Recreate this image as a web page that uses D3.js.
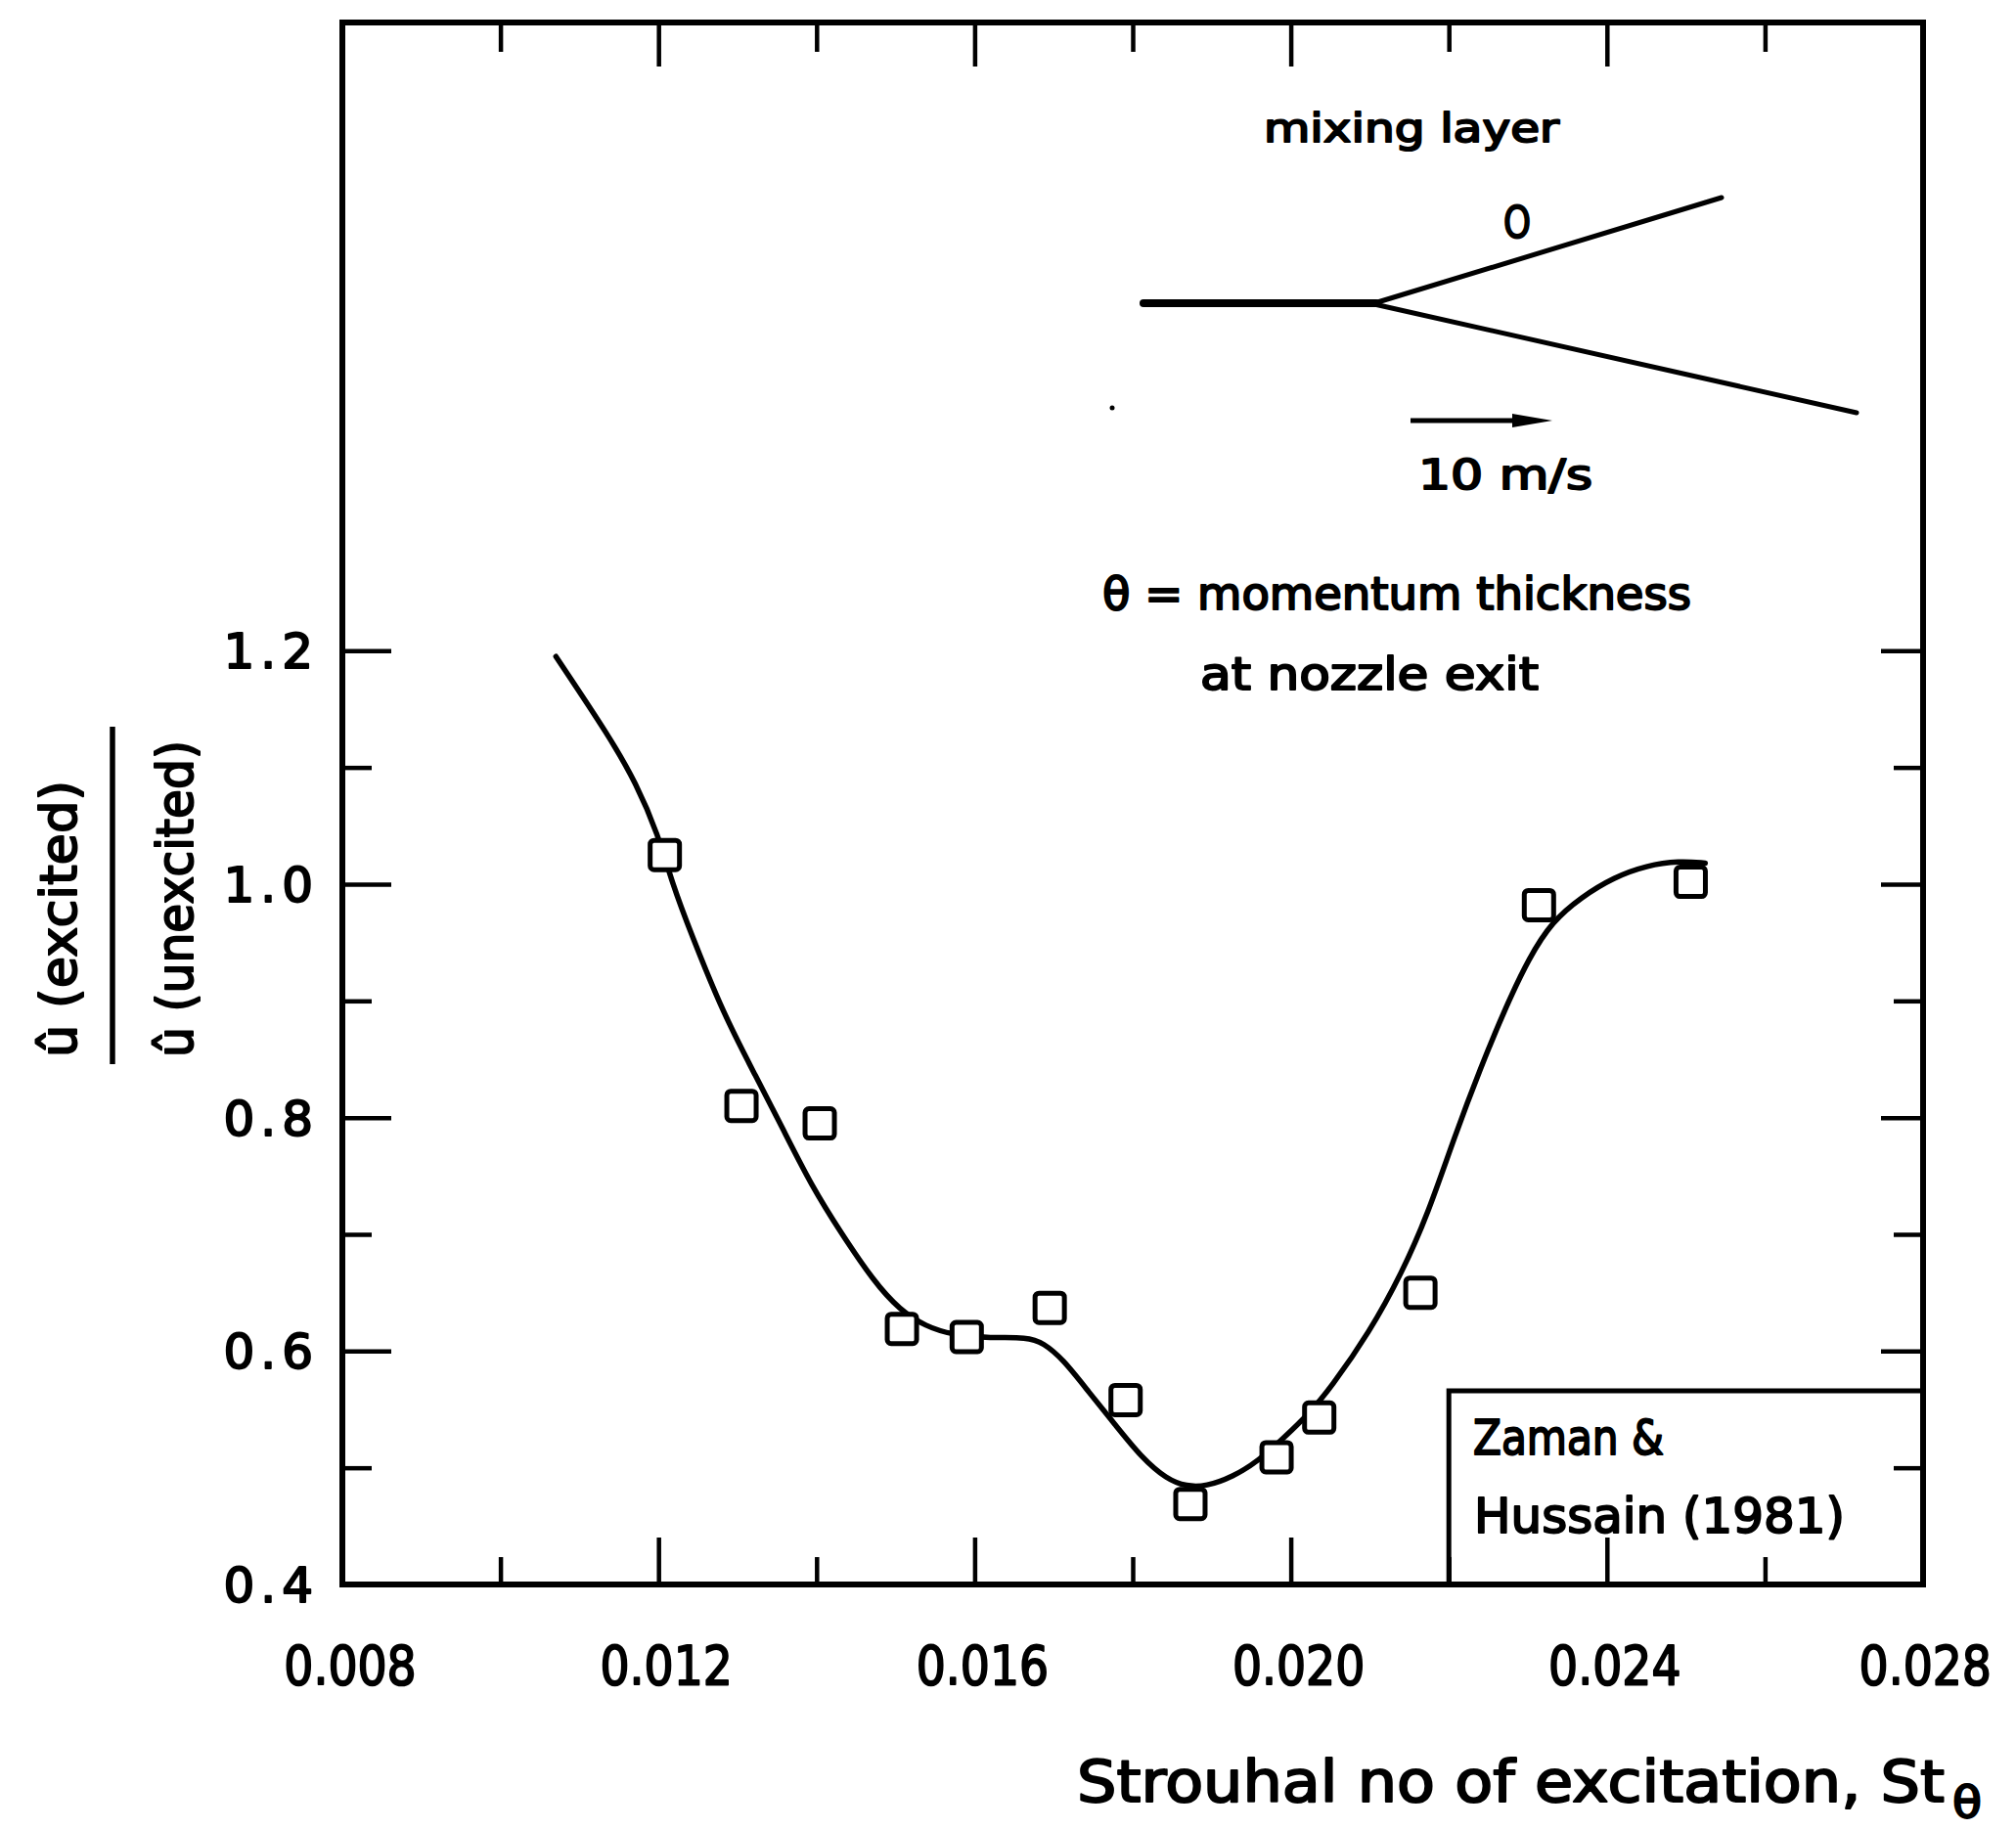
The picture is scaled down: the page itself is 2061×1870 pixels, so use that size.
<!DOCTYPE html>
<html>
<head>
<meta charset="utf-8">
<script src="https://cdn.jsdelivr.net/npm/d3@7"></script>
<style>
  html, body { margin: 0; padding: 0; background: #fff; }
  svg { display: block; }
  text { font-family: "DejaVu Sans", "Noto Sans", sans-serif; fill: #000; stroke: #000; stroke-width: 2; stroke-linejoin: round; }
</style>
</head>
<body>
<svg id="chart" width="2061" height="1870"></svg>
<script>
// Measured excitation cases: Strouhal number (based on momentum thickness)
const strouhal = [0.01208, 0.01305, 0.01404, 0.01508, 0.01590, 0.01695, 0.01791,
                  0.01873, 0.01982, 0.02036, 0.02164, 0.02314, 0.02506];
// Ratio of excited to unexcited fluctuation amplitude
const ampRatio = [1.025, 0.810, 0.795, 0.619, 0.612, 0.637, 0.558,
                  0.469, 0.509, 0.543, 0.650, 0.982, 1.002];

// Hand-faired trend curve through the measurements
const fitSt = [0.010702, 0.011383, 0.011713, 0.011998, 0.012167, 0.012415, 0.012827,
               0.013235, 0.013569, 0.013941, 0.014312, 0.014720, 0.015054, 0.015385,
               0.015710, 0.016205, 0.016663, 0.016870, 0.017118, 0.017443, 0.017777,
               0.018108, 0.018433, 0.018681, 0.018928, 0.019262, 0.019593, 0.019918,
               0.020252, 0.020500, 0.020995, 0.021407, 0.021738, 0.022068, 0.022397,
               0.022728, 0.023016, 0.023306, 0.023677, 0.024089, 0.024501, 0.024915,
               0.025244];
const fitRatio = [1.195, 1.126, 1.087, 1.042, 1.002, 0.957, 0.888,
                  0.835, 0.791, 0.741, 0.701, 0.660, 0.635, 0.621,
                  0.614, 0.611, 0.612, 0.607, 0.593, 0.565, 0.537,
                  0.509, 0.490, 0.484, 0.484, 0.492, 0.506, 0.526,
                  0.548, 0.568, 0.616, 0.667, 0.718, 0.783, 0.842,
                  0.896, 0.937, 0.968, 0.989, 1.006, 1.016, 1.020,
                  1.018];

// Axis ticks and labels
const xMajorTicks = [0.012, 0.016, 0.020, 0.024];
const xMinorTicks = [0.010, 0.014, 0.018, 0.022, 0.026];
const xTickValues = [0.008, 0.012, 0.016, 0.020, 0.024, 0.028];
const xTickLabels = ["0.008", "0.012", "0.016", "0.020", "0.024", "0.028"];
const yMajorTicks = [0.6, 0.8, 1.0, 1.2];
const yMinorTicks = [0.5, 0.7, 0.9, 1.1];
const yTickValues = [0.4, 0.6, 0.8, 1.0, 1.2];
const yTickLabels = ["0.4", "0.6", "0.8", "1.0", "1.2"];

// ---------------------------------------------------------------- layout
const W = 2061, H = 1870;
const svg = d3.select("#chart");
const plotLeft = 350, plotRight = 1966, plotTop = 23, plotBottom = 1620;

const x = d3.scaleLinear().domain([0.008, 0.028]).range([plotLeft, plotRight]);
const y = d3.scaleLinear().domain([0.4, 1.2]).range([plotBottom, 665.3]);

svg.append("rect").attr("width", W).attr("height", H).attr("fill", "#fff");

// helper: squeeze/stretch a text to a given drawn width
function fit(sel, w) {
  return sel.attr("textLength", w).attr("lengthAdjust", "spacingAndGlyphs");
}

// ---------------------------------------------------------------- frame
svg.append("rect")
  .attr("x", plotLeft).attr("y", plotTop)
  .attr("width", plotRight - plotLeft).attr("height", plotBottom - plotTop)
  .attr("fill", "none").attr("stroke", "#000").attr("stroke-width", 6);

// ticks on all four sides, pointing inward
function tickAxis(gen, transform, values, size) {
  const g = svg.append("g").attr("transform", transform)
    .call(gen.tickValues(values).tickSize(size).tickFormat(""));
  g.select(".domain").remove();
  g.selectAll(".tick line").attr("stroke", "#000").attr("stroke-width", 4.5);
  return g;
}
tickAxis(d3.axisTop(x), `translate(0,${plotBottom})`, xMajorTicks, 48);
tickAxis(d3.axisTop(x), `translate(0,${plotBottom})`, xMinorTicks, 28);
tickAxis(d3.axisBottom(x), `translate(0,${plotTop})`, xMajorTicks, 45);
tickAxis(d3.axisBottom(x), `translate(0,${plotTop})`, xMinorTicks, 30);
tickAxis(d3.axisRight(y), `translate(${plotLeft},0)`, yMajorTicks, 50);
tickAxis(d3.axisRight(y), `translate(${plotLeft},0)`, yMinorTicks, 30);
tickAxis(d3.axisLeft(y), `translate(${plotRight},0)`, yMajorTicks, 43);
tickAxis(d3.axisLeft(y), `translate(${plotRight},0)`, yMinorTicks, 30);

// ---------------------------------------------------------------- tick labels
const xl = svg.append("g").attr("class", "x-labels");
xTickValues.forEach((v, i) => {
  const t = xl.append("text")
    .attr("y", 1722)
    .attr("text-anchor", "middle")
    .attr("font-size", 55)
    .text(xTickLabels[i]);
  const natural = t.node().getComputedTextLength();
  // keep the outermost label clear of the page edge
  const cx = Math.min(x(v) + 8, W - natural / 2 - 14);
  t.attr("x", cx);
  fit(t, natural * 0.86);
});

const yl = svg.append("g").attr("class", "y-labels");
yTickValues.forEach((v, i) => {
  yl.append("text")
    .attr("x", 326).attr("y", y(v) + 18)
    .attr("text-anchor", "end")
    .attr("font-size", 50)
    .attr("letter-spacing", 6)
    .text(yTickLabels[i]);
});

// ---------------------------------------------------------------- axis titles
const xt = svg.append("text")
  .attr("x", 1101).attr("y", 1842)
  .attr("font-size", 58)
  .text("Strouhal no of excitation, St");
fit(xt, 887);
fit(svg.append("text")
  .attr("x", 1996).attr("y", 1858)
  .attr("font-size", 44)
  .text("θ"), 30);

// stacked ratio label: û (excited) over û (unexcited), read bottom-to-top
fit(svg.append("text")
  .attr("transform", "translate(78,1081) rotate(-90)")
  .attr("font-size", 52)
  .text("û (excited)"), 283);
svg.append("line")
  .attr("x1", 115).attr("x2", 115).attr("y1", 743).attr("y2", 1088)
  .attr("stroke", "#000").attr("stroke-width", 5.5);
fit(svg.append("text")
  .attr("transform", "translate(197,1081) rotate(-90)")
  .attr("font-size", 52)
  .text("û (unexcited)"), 324);

// ---------------------------------------------------------------- inset sketch
const inset = svg.append("g").attr("class", "inset");
fit(inset.append("text").attr("x", 1292).attr("y", 145)
  .attr("font-size", 41).text("mixing layer"), 302);
fit(inset.append("text").attr("x", 1537).attr("y", 243)
  .attr("font-size", 44).text("O"), 28);
// splitter plate and the two edges of the spreading layer
inset.append("line").attr("x1", 1169).attr("y1", 310).attr("x2", 1407).attr("y2", 310)
  .attr("stroke", "#000").attr("stroke-width", 8).attr("stroke-linecap", "round");
inset.append("line").attr("x1", 1405).attr("y1", 310).attr("x2", 1760).attr("y2", 202)
  .attr("stroke", "#000").attr("stroke-width", 5).attr("stroke-linecap", "round");
inset.append("line").attr("x1", 1405).attr("y1", 311).attr("x2", 1898).attr("y2", 422)
  .attr("stroke", "#000").attr("stroke-width", 5).attr("stroke-linecap", "round");
// velocity scale arrow
inset.append("line").attr("x1", 1442).attr("y1", 430).attr("x2", 1560).attr("y2", 430)
  .attr("stroke", "#000").attr("stroke-width", 5);
inset.append("path").attr("d", "M1546,423 L1587,430 L1546,437 Z").attr("fill", "#000");
fit(inset.append("text").attr("x", 1450).attr("y", 500)
  .attr("font-size", 42).text("10 m/s"), 178);
inset.append("circle").attr("cx", 1137).attr("cy", 417).attr("r", 2.5).attr("fill", "#000");

fit(svg.append("text").attr("x", 1127).attr("y", 623)
  .attr("font-size", 46).text("θ = momentum thickness"), 602);
fit(svg.append("text").attr("x", 1227).attr("y", 705)
  .attr("font-size", 46).text("at nozzle exit"), 346);

// ---------------------------------------------------------------- source box
svg.append("rect")
  .attr("x", x(0.022)).attr("y", 1422)
  .attr("width", plotRight - x(0.022)).attr("height", plotBottom - 1422)
  .attr("fill", "none").attr("stroke", "#000").attr("stroke-width", 5);
fit(svg.append("text").attr("x", 1506).attr("y", 1487)
  .attr("font-size", 50).text("Zaman &"), 195);
fit(svg.append("text").attr("x", 1507).attr("y", 1567)
  .attr("font-size", 50).text("Hussain (1981)"), 379);

// ---------------------------------------------------------------- data
const fit_pts = fitSt.map((s, i) => [s, fitRatio[i]]);
svg.append("path")
  .datum(fit_pts)
  .attr("d", d3.line().x(d => x(d[0])).y(d => y(d[1])).curve(d3.curveBasis))
  .attr("fill", "none").attr("stroke", "#000").attr("stroke-width", 5.5)
  .attr("stroke-linecap", "round").attr("stroke-linejoin", "round");

const side = 30;
svg.append("g").selectAll("rect")
  .data(strouhal.map((s, i) => [s, ampRatio[i]]))
  .join("rect")
  .attr("x", d => x(d[0]) - side / 2)
  .attr("y", d => y(d[1]) - side / 2)
  .attr("width", side).attr("height", side)
  .attr("rx", 4)
  .attr("fill", "#fff").attr("stroke", "#000").attr("stroke-width", 5);
</script>
</body>
</html>
